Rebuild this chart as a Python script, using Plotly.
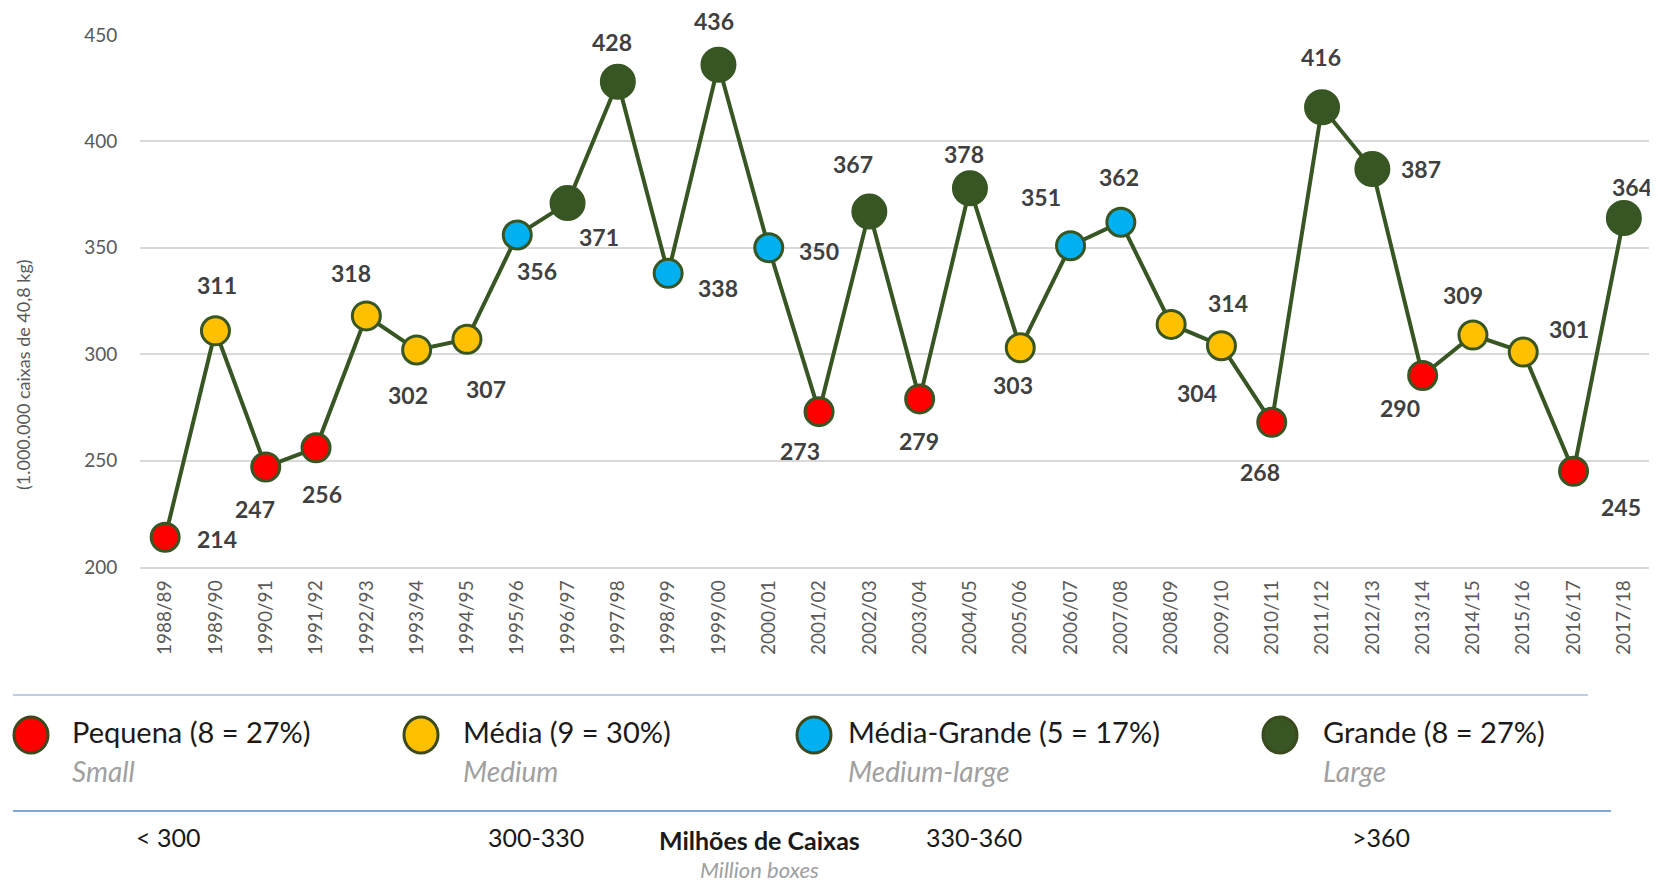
import plotly.graph_objects as go

# Data
seasons = ["1988/89", "1989/90", "1990/91", "1991/92", "1992/93", "1993/94",
           "1994/95", "1995/96", "1996/97", "1997/98", "1998/99", "1999/00",
           "2000/01", "2001/02", "2002/03", "2003/04", "2004/05", "2005/06",
           "2006/07", "2007/08", "2008/09", "2009/10", "2010/11", "2011/12",
           "2012/13", "2013/14", "2014/15", "2015/16", "2016/17", "2017/18"]
boxes = [214, 311, 247, 256, 318, 302, 307, 356, 371, 428, 338, 436, 350, 273, 367,
         279, 378, 303, 351, 362, 314, 304, 268, 416, 387, 290, 309, 301, 245, 364]
crop_class = ["P", "M", "P", "P", "M", "M", "M", "MG", "G", "G", "MG", "G", "MG", "P", "G",
              "P", "G", "M", "MG", "MG", "M", "M", "P", "G", "G", "P", "M", "M", "P", "G"]

class_keys = ["P", "M", "MG", "G"]
class_names = ["Pequena (8 = 27%)", "Média (9 = 30%)", "Média-Grande (5 = 17%)", "Grande (8 = 27%)"]
class_names_en = ["Small", "Medium", "Medium-large", "Large"]
range_labels = ["< 300", "300-330", "330-360", ">360"]

# Style
OFF = 8  # page body margin
W, H = 1650, 877
# plot area in page pixels: x 140..1649, y 35..567
PX0, PX1, PY0, PY1 = 140, 1649, 35, 567
L, R = PX0 - OFF, W - (PX1 - OFF)
T, B = PY0 - OFF, H - (PY1 - OFF)
LINE_GREEN = "#375623"
class_colors = {"P": "#FF0000", "M": "#FFC000", "MG": "#00B0F0", "G": "#375623"}
class_sizes = {"P": 28, "M": 28, "MG": 28, "G": 33}
FONT = "Lato"

# label offsets in px (dx right, dy down) relative to each marker
label_offsets = [(52, 2), (2, -46), (-11, 42), (6, 46), (-15, -43), (-9, 45), (19, 50),
                 (20, 36), (31, 34), (-6, -40), (50, 15), (-4, -44), (50, 3), (-19, 39),
                 (-16, -48), (-1, 42), (-6, -34), (-7, 37), (-30, -49), (-2, -45),
                 (57, -21), (-24, 47), (-12, 50), (-1, -50), (49, 0), (-23, 33),
                 (-10, -40), (46, -23), (47, 36), (8, -31)]


def px_x(px):
    return (px - PX0) / (PX1 - PX0)


def px_y(py):
    return (PY1 - py) / (PY1 - PY0)


def note(px, py, text, size, color, anchor="center"):
    fig.add_annotation(x=px_x(px), y=px_y(py), xref="paper", yref="paper", text=text,
                       showarrow=False, xanchor=anchor, yanchor="middle",
                       font=dict(family=FONT, size=size, color=color))


fig = go.Figure()
fig.add_trace(go.Scatter(x=seasons, y=boxes, mode="lines",
                         line=dict(color=LINE_GREEN, width=4), showlegend=False,
                         hoverinfo="skip"))

for k in class_keys:
    xs = [s for s, c in zip(seasons, crop_class) if c == k]
    ys = [v for v, c in zip(boxes, crop_class) if c == k]
    fig.add_trace(go.Scatter(
        x=xs, y=ys, mode="markers", showlegend=False,
        marker=dict(color=class_colors[k], size=class_sizes[k],
                    line=dict(color=LINE_GREEN, width=3))))

# data labels
for s, v, (dx, dy) in zip(seasons, boxes, label_offsets):
    fig.add_annotation(x=s, y=v, text=str(v), showarrow=False, xshift=dx, yshift=-dy,
                       font=dict(family=FONT, size=23, color="#404040", weight="bold"))

# y title
fig.add_annotation(x=px_x(23), y=px_y(375), xref="paper", yref="paper",
                   xanchor="center", yanchor="middle",
                   text="(1.000.000 caixas de 40,8 kg)", textangle=-90, showarrow=False,
                   font=dict(family=FONT, size=18, color="#595959"))

# legend block
fig.add_shape(type="line", xref="paper", yref="paper", x0=px_x(13), x1=px_x(1588),
              y0=px_y(695), y1=px_y(695), line=dict(color="#A9BCD6", width=1.5))
fig.add_shape(type="line", xref="paper", yref="paper", x0=px_x(13), x1=px_x(1611),
              y0=px_y(811), y1=px_y(811), line=dict(color="#7FA7DA", width=2))

circle_x = [31, 421, 814, 1280]
text_x = [70, 461, 846, 1321]
for k, name, en, cx, tx in zip(class_keys, class_names, class_names_en, circle_x, text_x):
    fig.add_shape(type="circle", xref="paper", yref="paper", xsizemode="pixel",
                  ysizemode="pixel", xanchor=px_x(cx), yanchor=px_y(735),
                  x0=-17, x1=17, y0=-18, y1=18,
                  fillcolor=class_colors[k], line=dict(color="#3B4A1E", width=3))
    note(tx, 731, name, 29, "#1a1a1a", "left")
    note(tx, 771, "<i>" + en + "</i>", 28, "#A0A0A0", "left")

range_x = [168, 536, 974, 1381]
for lab, rx in zip(range_labels, range_x):
    note(rx, 837, lab, 25, "#1a1a1a")
note(759, 840, "<b>Milhões de Caixas</b>", 25, "#1a1a1a")
note(759, 869, "<i>Million boxes</i>", 22, "#A0A0A0")

fig.update_layout(
    width=W, height=H, margin=dict(l=L, r=R, t=T, b=B),
    plot_bgcolor="white", paper_bgcolor="white",
    font=dict(family=FONT, color="#595959"),
)
fig.update_xaxes(type="category", range=[-0.5, 29.5], tickangle=-90,
                 tickfont=dict(size=19, color="#595959"), ticks="outside",
                 ticklen=4, tickcolor="white", showgrid=False,
                 showline=True, linecolor="#D9D9D9", linewidth=1.5)
fig.update_yaxes(range=[200, 450], dtick=50, tick0=200,
                 tickfont=dict(size=19, color="#595959"), ticks="outside",
                 ticklen=18, tickcolor="white", showgrid=True,
                 gridcolor="#D9D9D9", gridwidth=1.5, zeroline=False)

fig.write_html("out.html")
